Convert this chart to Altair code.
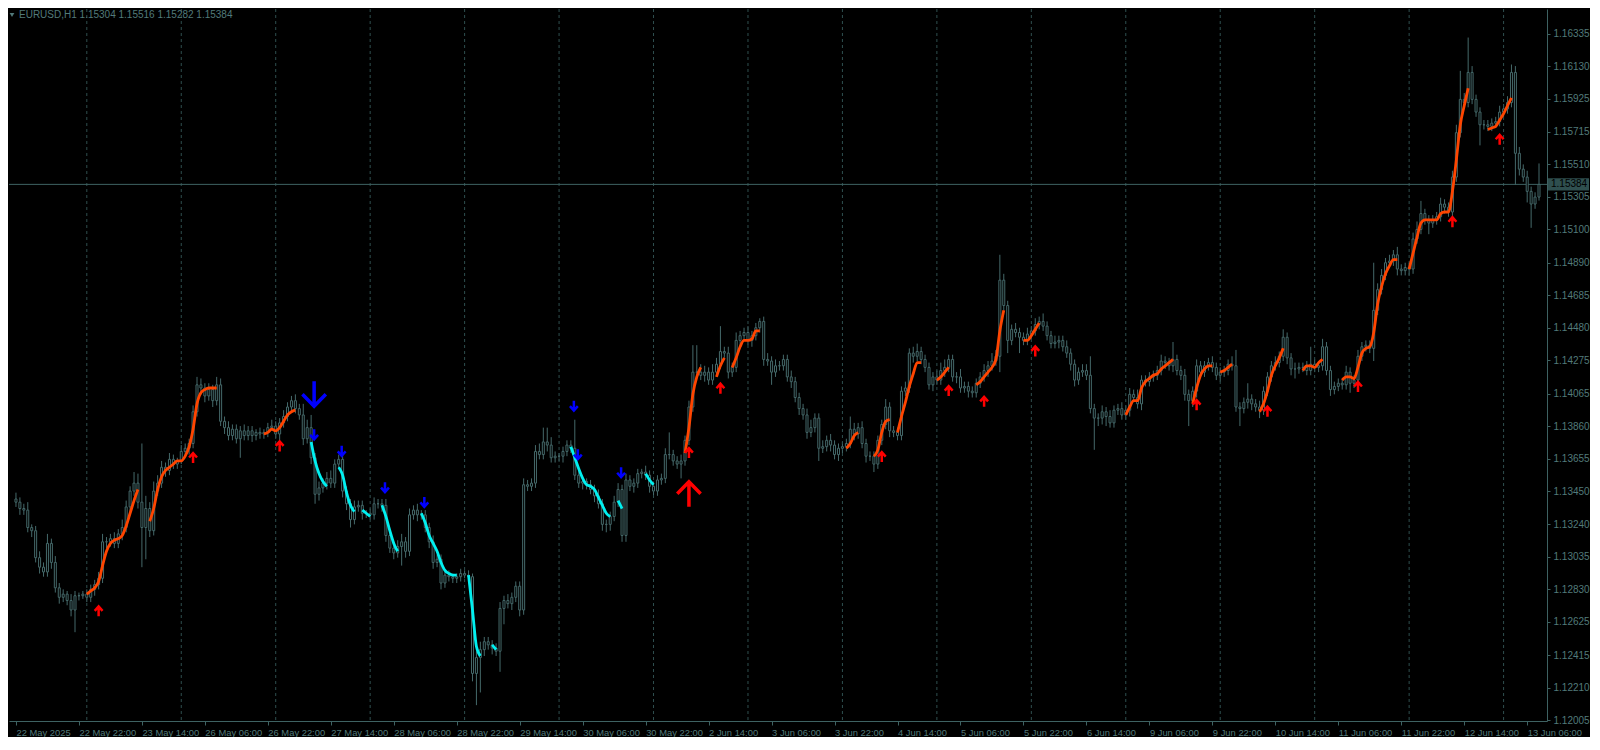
import altair as alt
import pandas as pd

# ---------------- data (prices in pips above 1.1000) ----------------
closes_pips = [
    338, 334, 333, 322, 320, 303, 297, 294, 312, 300,
    284, 278, 280, 276, 270, 279, 279, 280, 278, 283,
    286, 290, 313, 313, 315, 312, 318, 322, 335, 345,
    350, 338, 322, 334, 320, 345, 350, 360, 358, 365,
    362, 364, 370, 372, 375, 395, 412, 410, 405, 409,
    402, 412, 389, 385, 380, 384, 378, 383, 380, 383,
    380, 382, 381, 382, 385, 386, 381, 388, 392, 398,
    402, 397, 393, 378, 385, 366, 343, 347, 350, 353,
    350, 362, 365, 345, 337, 327, 335, 336, 331, 331,
    330, 337, 337, 336, 317, 309, 306, 310, 313, 307,
    330, 333, 330, 330, 322, 313, 300, 302, 287, 292,
    291, 290, 291, 293, 292, 291, 230, 240, 245, 250,
    248, 246, 244, 271, 276, 274, 278, 285, 270, 349,
    348, 350, 370, 368, 376, 374, 366, 367, 367, 370,
    374, 372, 355, 350, 351, 349, 346, 342, 337, 324,
    324, 329, 338, 346, 317, 352, 348, 350, 356, 357,
    355, 348, 345, 352, 353, 368, 368, 364, 362, 364,
    377, 398, 420, 420, 418, 420, 415, 420, 425, 433,
    432, 420, 423, 440, 443, 445, 440, 443, 448, 452,
    428, 427, 420, 424, 424, 428, 417, 414, 404, 397,
    393, 382, 385, 391, 372, 373, 377, 374, 368, 372,
    373, 375, 384, 381, 385, 375, 367, 367, 362, 377,
    387, 398, 383, 382, 380, 408, 410, 432, 430, 433,
    428, 423, 412, 417, 415, 421, 423, 428, 417, 417,
    410, 411, 408, 407, 413, 417, 421, 424, 427, 430,
    478, 462, 440, 447, 445, 442, 440, 444, 446, 450,
    452, 449, 443, 438, 439, 440, 436, 432, 425, 415,
    420, 421, 418, 397, 391, 391, 395, 392, 388, 396,
    397, 393, 396, 406, 404, 400, 415, 414, 417, 418,
    421, 427, 426, 424, 428, 421, 418, 406, 402, 408,
    424, 420, 424, 426, 423, 418, 420, 421, 425, 424,
    398, 397, 401, 403, 400, 398, 396, 408, 417, 424,
    426, 430, 442, 429, 422, 422, 423, 423, 421, 425,
    423, 424, 436, 421, 409, 411, 413, 412, 420, 413,
    415, 430, 436, 437, 435, 459, 472, 481, 489, 490,
    494, 485, 484, 486, 485, 504, 510, 520, 516, 514,
    516, 518, 526, 524, 521, 543, 571, 592, 590, 609,
    592, 584, 576, 576, 575, 577, 578, 584, 586, 590,
    609, 558, 548, 543, 534, 526, 530.4, 538.4,
]
upper_wick_pips = [
    4, 3, 3, 5, 2, 3, 4, 3, 6, 3,
    4, 3, 3, 2, 4, 3, 2, 2, 3, 3,
    3, 4, 5, 3, 3, 4, 3, 5, 4, 3,
    7, 6, 37, 8, 4, 6, 5, 4, 3, 4,
    3, 2, 4, 3, 3, 4, 5, 4, 3, 4,
    3, 5, 4, 3, 4, 3, 3, 3, 4, 3,
    3, 2, 3, 2, 3, 4, 3, 3, 4, 3,
    3, 4, 3, 7, 5, 8, 3, 4, 3, 4,
    5, 3, 3, 4, 3, 3, 4, 3, 3, 2,
    3, 4, 3, 3, 4, 3, 3, 4, 5, 3,
    4, 3, 4, 3, 3, 3, 4, 3, 3, 2,
    3, 2, 2, 3, 2, 3, 2, 4, 5, 3,
    3, 3, 3, 4, 3, 4, 3, 3, 3, 4,
    3, 3, 4, 5, 9, 9, 5, 3, 2, 3,
    3, 3, 18, 3, 3, 2, 3, 3, 4, 3,
    3, 3, 4, 4, 3, 4, 3, 3, 3, 2,
    4, 3, 3, 3, 3, 4, 14, 3, 3, 4,
    3, 4, 17, 17, 5, 4, 3, 5, 4, 16,
    3, 4, 3, 5, 3, 3, 4, 3, 3, 2,
    3, 4, 3, 4, 3, 3, 3, 4, 3, 3,
    3, 4, 5, 3, 3, 4, 3, 4, 3, 3,
    3, 3, 8, 4, 3, 4, 3, 3, 3, 3,
    3, 5, 3, 3, 3, 3, 4, 3, 4, 5,
    3, 3, 3, 3, 4, 5, 5, 3, 3, 3,
    5, 3, 3, 3, 3, 3, 4, 3, 5, 4,
    16, 4, 3, 3, 4, 3, 3, 4, 3, 4,
    3, 5, 3, 3, 4, 3, 3, 4, 3, 3,
    3, 4, 4, 12, 3, 3, 4, 3, 4, 3,
    3, 4, 3, 4, 3, 5, 3, 3, 3, 3,
    3, 4, 3, 3, 11, 3, 3, 4, 3, 3,
    4, 3, 3, 3, 4, 3, 3, 3, 3, 5,
    10, 3, 3, 10, 3, 3, 4, 3, 3, 3,
    4, 3, 5, 3, 3, 4, 3, 3, 4, 11,
    3, 3, 5, 3, 3, 3, 3, 3, 4, 3,
    3, 4, 3, 3, 3, 30, 4, 4, 3, 4,
    3, 5, 3, 3, 3, 4, 5, 8, 3, 3,
    3, 3, 4, 3, 3, 4, 5, 18, 4, 22,
    4, 3, 3, 3, 3, 3, 3, 4, 3, 4,
    5, 4, 4, 3, 4, 3, 3, 13.2,
]
lower_wick_pips = [
    3, 4, 3, 3, 4, 3, 4, 3, 3, 4,
    3, 4, 3, 3, 4, 14, 3, 2, 3, 3,
    4, 3, 3, 4, 3, 3, 3, 4, 3, 3,
    3, 4, 25, 20, 4, 3, 3, 3, 4, 3,
    3, 3, 2, 3, 4, 3, 3, 4, 4, 3,
    4, 3, 3, 4, 3, 3, 3, 12, 3, 3,
    4, 3, 3, 3, 3, 2, 3, 4, 3, 3,
    3, 3, 3, 4, 3, 4, 6, 4, 3, 4,
    3, 3, 3, 4, 4, 5, 3, 3, 4, 3,
    3, 3, 3, 4, 4, 3, 4, 3, 12, 4,
    3, 3, 4, 3, 3, 4, 4, 3, 4, 3,
    3, 3, 3, 3, 2, 3, 5, 20, 22, 4,
    3, 4, 3, 13, 10, 3, 4, 3, 4, 3,
    3, 3, 3, 3, 3, 4, 3, 3, 3, 4,
    3, 3, 3, 3, 4, 3, 3, 4, 3, 4,
    5, 4, 3, 3, 4, 4, 3, 4, 3, 3,
    3, 4, 4, 3, 3, 3, 3, 3, 3, 9,
    3, 3, 3, 3, 3, 4, 3, 3, 3, 3,
    3, 4, 3, 3, 4, 3, 3, 4, 3, 3,
    4, 3, 8, 3, 3, 3, 3, 4, 3, 4,
    3, 4, 3, 3, 8, 3, 3, 4, 3, 4,
    3, 3, 3, 4, 3, 3, 4, 3, 5, 3,
    3, 3, 4, 3, 3, 3, 3, 3, 4, 3,
    3, 3, 3, 4, 3, 3, 4, 3, 3, 4,
    3, 3, 4, 3, 3, 3, 3, 4, 3, 3,
    10, 3, 8, 3, 3, 10, 3, 3, 3, 3,
    3, 3, 3, 3, 3, 4, 3, 3, 4, 4,
    3, 3, 3, 3, 20, 5, 4, 6, 3, 3,
    3, 3, 3, 4, 3, 3, 4, 3, 3, 3,
    3, 3, 4, 3, 4, 3, 3, 4, 16, 4,
    4, 3, 3, 3, 3, 3, 4, 3, 3, 3,
    3, 11, 3, 4, 4, 3, 5, 3, 3, 3,
    3, 3, 3, 4, 4, 6, 3, 3, 3, 3,
    3, 3, 3, 3, 4, 3, 3, 3, 3, 6,
    3, 4, 3, 3, 3, 8, 3, 3, 3, 3,
    3, 4, 3, 3, 4, 3, 3, 3, 3, 7,
    3, 3, 3, 4, 3, 3, 3, 3, 3, 3,
    3, 3, 13, 3, 3, 3, 3, 3, 3, 3,
    3, 20, 4, 3, 7, 15, 3, 2.2,
]
first_open_pips = 340

time_labels = [
    "22 May 2025", "22 May 22:00", "23 May 14:00", "26 May 06:00", "26 May 22:00",
    "27 May 14:00", "28 May 06:00", "28 May 22:00", "29 May 14:00", "30 May 06:00",
    "30 May 22:00", "2 Jun 14:00", "3 Jun 06:00", "3 Jun 22:00", "4 Jun 14:00",
    "5 Jun 06:00", "5 Jun 22:00", "6 Jun 14:00", "9 Jun 06:00", "9 Jun 22:00",
    "10 Jun 14:00", "11 Jun 06:00", "11 Jun 22:00", "12 Jun 14:00", "13 Jun 06:00",
]
label_step = 16
day_start_bars = [18, 42, 66, 90, 114, 138, 162, 186, 210, 234, 258, 282, 306, 330, 354, 378]
price_ticks = [1.12005, 1.12210, 1.12415, 1.12625, 1.12830, 1.13035, 1.13240, 1.13450,
               1.13655, 1.13860, 1.14065, 1.14275, 1.14480, 1.14685, 1.14890, 1.15100,
               1.15305, 1.15510, 1.15715, 1.15925, 1.16130, 1.16335]

up_segments = [
    (18, [280, 282, 284, 288, 298, 307, 312, 314, 315, 317, 323, 331, 339, 346]),
    (34, [326, 334, 346, 354, 358, 360, 362, 364, 364, 367, 373, 384, 400, 407, 409, 410, 410, 410]),
    (63, [381, 382, 384, 383, 385, 389, 393, 395, 396]),
    (170, [369, 385, 406, 417, 423]),
    (178, [417, 424, 429]),
    (182, [423, 429, 436, 440, 440, 441, 446, 446]),
    (211, [372, 375, 380, 382]),
    (218, [367, 371, 382, 389, 390]),
    (224, [382, 392, 401, 411, 419, 426, 426]),
    (234, [415, 417, 420, 423]),
    (244, [412, 414, 417, 420, 423, 428, 446, 459]),
    (256, [440, 440, 443, 447, 451]),
    (282, [393, 398, 402, 402, 410, 414, 416, 418, 419, 422, 424, 426, 428]),
    (299, [400, 410, 418, 422, 424, 424]),
    (306, [420, 421, 423, 425]),
    (316, [395, 400, 408, 418, 424, 429, 435]),
    (327, [421, 424, 424, 423, 426, 428]),
    (337, [415, 417, 417, 416, 423, 432, 435, 436, 445, 463, 474, 482, 487, 491, 491]),
    (354, [485, 495, 505, 514, 516, 516, 516, 516, 520, 521, 521, 534, 554, 576, 588, 599]),
    (374, [573, 574, 575, 579, 583, 588, 593]),
]
down_segments = [
    (75, [376, 364, 356, 351, 348]),
    (82, [360, 355, 344, 336, 332]),
    (88, [333, 331, 329]),
    (93, [336, 329, 320, 312, 307]),
    (103, [331, 325, 317, 312, 307, 300, 295, 293, 292, 292]),
    (115, [292, 270, 247, 241]),
    (121, [248, 245]),
    (141, [373, 366, 359, 353, 349, 348, 346, 341, 336, 331, 329]),
    (153, [339, 334]),
    (160, [356, 352, 349]),
]
up_arrow_bars = [21, 45, 67, 171, 179, 220, 237, 246, 259, 300, 318, 341, 365, 377]
up_arrow_pips = [269.3, 366, 373.3, 369.1, 409.7, 366.6, 408.2, 401.4, 433.2, 399.3, 395.2, 410.8, 514.7, 566.7]
down_arrow_bars = [75, 82, 93, 103, 141, 142, 153]
down_arrow_pips = [380.6, 370.2, 347.3, 338, 398.7, 368.1, 356.7]
big_down_bar, big_down_pips = 75, 406
big_up_bar, big_up_pips = 171, 343.3

last_price = 1.15384
header_text = "EURUSD,H1  1.15304 1.15516 1.15282 1.15384"

# ---------------- tables ----------------
n = len(closes_pips)
assert len(upper_wick_pips) == n and len(lower_wick_pips) == n, (n, len(upper_wick_pips), len(lower_wick_pips))


def px(p):
    return round(1.1 + p / 10000.0, 5)


opens_pips = [first_open_pips] + closes_pips[:-1]
rows = []
for i in range(n):
    o, c = opens_pips[i], closes_pips[i]
    rows.append({
        "bar": i,
        "open": px(o),
        "close": px(c),
        "high": px(max(o, c) + upper_wick_pips[i]),
        "low": px(min(o, c) - lower_wick_pips[i]),
    })
candles = pd.DataFrame(rows)


def seg_table(segs):
    out = []
    for k, (start, vals) in enumerate(segs):
        for j, v in enumerate(vals):
            out.append({"bar": start + j, "price": px(v), "seg": k})
    return pd.DataFrame(out)


up_df = seg_table(up_segments)
down_df = seg_table(down_segments)
up_arr = pd.DataFrame({"bar": up_arrow_bars, "price": [px(p) for p in up_arrow_pips]})
down_arr = pd.DataFrame({"bar": down_arrow_bars, "price": [px(p) for p in down_arrow_pips]})
big_down_df = pd.DataFrame({"bar": [big_down_bar], "price": [px(big_down_pips)]})
big_up_df = pd.DataFrame({"bar": [big_up_bar], "price": [px(big_up_pips)]})
grid_df = pd.DataFrame({"bar": day_start_bars})
last_df = pd.DataFrame({"price": [last_price], "label": [f"{last_price:.5f}"]})
head_df = pd.DataFrame({"t": [header_text]})

# ---------------- styling ----------------
W, H = 1538, 712
BG = "#000000"
SLATE = "#2F4F4F"
AXIS = "#3e6262"
CANDLE = "#45696a"
TXT = "#527a7a"
FONT = "Liberation Sans"

xs = alt.Scale(domain=[-0.5, 387.76], nice=False, zero=False)
ys = alt.Scale(domain=[1.1200, 1.1649], nice=False, zero=False)

lab_js = "[" + ",".join("'" + s + "'" for s in time_labels) + "][round(datum.value / %d)]" % label_step

x_axis = alt.Axis(values=list(range(0, n, label_step)), labelExpr=lab_js, orient="bottom",
                  labelAlign="left", labelBaseline="top", labelPadding=3, tickSize=4,
                  labelOverlap=False, labelFlush=False, title=None, grid=False,
                  domainColor=AXIS, tickColor=AXIS, labelColor=TXT, labelFont=FONT,
                  labelFontSize=9.4)
y_axis = alt.Axis(values=price_ticks, format=".5f", orient="right", tickSize=3, labelPadding=3,
                  title=None, grid=False, domainColor=AXIS, tickColor=AXIS,
                  labelColor=TXT, labelFont=FONT, labelFontSize=10, labelOverlap=False,
                  labelFlush=False)


def X():
    return alt.X("bar:Q", scale=xs, axis=x_axis)


def Y(f="price"):
    return alt.Y(f + ":Q", scale=ys, axis=y_axis)


grid = alt.Chart(grid_df).mark_rule(color=SLATE, strokeDash=[3, 3], strokeWidth=1).encode(x=X())

price_line = alt.Chart(last_df).mark_rule(color=AXIS, strokeWidth=1).encode(y=Y())

wicks = alt.Chart(candles).mark_rule(color=CANDLE, strokeWidth=1).encode(
    x=X(), y=Y("low"), y2="high:Q",
)
bodies = alt.Chart(candles).mark_bar(size=2, fill=BG, stroke=CANDLE, strokeWidth=1, clip=True).encode(
    x=X(), y=Y("open"), y2="close:Q"
)

up_lines = alt.Chart(up_df).mark_line(color="#FF4500", strokeWidth=2.8, interpolate="monotone").encode(
    x=X(), y=Y(), detail="seg:N", order="bar:Q"
)
down_lines = alt.Chart(down_df).mark_line(color="#00F0F0", strokeWidth=2.8, interpolate="monotone").encode(
    x=X(), y=Y(), detail="seg:N", order="bar:Q"
)

UP_SMALL = "M0,1 L0,-0.85 M-0.75,-0.05 L0,-0.9 L0.75,-0.05"
DOWN_SMALL = "M0,-1 L0,0.85 M-0.75,0.05 L0,0.9 L0.75,0.05"
UP_BIG = "M0,1 L0,-0.92 M-0.9,0 L0,-0.92 L0.9,0"
DOWN_BIG = "M0,-1 L0,0.92 M-0.9,0 L0,0.92 L0.9,0"

up_arrows = alt.Chart(up_arr).mark_point(shape=UP_SMALL, filled=False, stroke="#FF0000", strokeWidth=2.5,
                                         size=110, opacity=1).encode(x=X(), y=Y())
down_arrows = alt.Chart(down_arr).mark_point(shape=DOWN_SMALL, filled=False, stroke="#0000FF", strokeWidth=2.5,
                                             size=110, opacity=1, xOffset=3).encode(x=X(), y=Y())
big_down = alt.Chart(big_down_df).mark_point(shape=DOWN_BIG, filled=False, stroke="#0000FF", strokeWidth=3.5,
                                             size=676, opacity=1, xOffset=3).encode(x=X(), y=Y())
big_up = alt.Chart(big_up_df).mark_point(shape=UP_BIG, filled=False, stroke="#FF0000", strokeWidth=3.5,
                                         size=676, opacity=1).encode(x=X(), y=Y())

head_tri = alt.Chart(head_df).mark_point(shape="triangle-down", filled=True, color=TXT, size=22, opacity=1).encode(
    x=alt.value(3), y=alt.value(6)
)
head = alt.Chart(head_df).mark_text(align="left", baseline="top", font=FONT, fontSize=10, color=TXT).encode(
    x=alt.value(10), y=alt.value(1), text="t:N"
)

BOX = "M-1,-0.3 L1,-0.3 L1,0.3 L-1,0.3 Z"
price_box = alt.Chart(last_df).mark_point(shape=BOX, filled=True, color="#2F4F4F", size=1681, opacity=1,
                                          clip=False).encode(x=alt.value(W + 21.5), y=Y())
price_box_text = alt.Chart(last_df).mark_text(align="left", baseline="middle", font=FONT, fontSize=10,
                                              color="#000000").encode(x=alt.value(W + 4), y=Y(), text="label:N")

chart = alt.layer(
    wicks, grid, price_line, bodies, up_lines, down_lines, up_arrows, down_arrows, big_down, big_up,
    head_tri, head, price_box, price_box_text,
).properties(
    width=W, height=H, background=BG, padding={"left": 0, "top": 0, "right": 0, "bottom": 0}
).configure_view(stroke=None)

chart.save("out.html", embed_options={"renderer": "svg", "actions": False})
